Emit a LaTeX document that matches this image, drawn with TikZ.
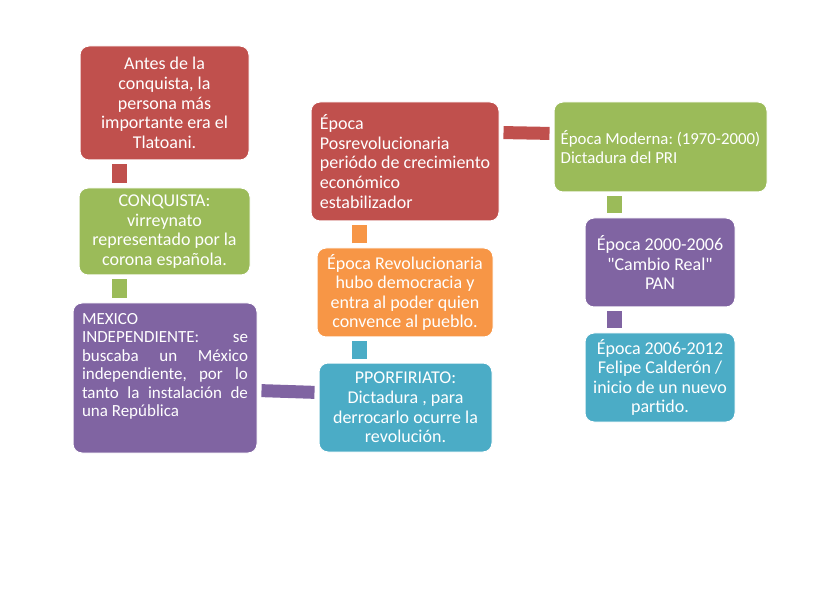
\documentclass[tikz,border=0pt]{standalone}
\usepackage{fontspec}
\newfontfamily\cbr{Carlito}
\usepackage{tikz}
\usetikzlibrary{positioning}
\definecolor{smred}{HTML}{C0504D}
\definecolor{smgreen}{HTML}{9BBB59}
\definecolor{smpurple}{HTML}{8064A2}
\definecolor{smblue}{HTML}{4BACC6}
\definecolor{smorange}{HTML}{F79646}
\frenchspacing
\begin{document}
\begin{tikzpicture}[x=1pt,y=-1pt,font=\cbr\fontsize{18}{19.6}\selectfont,
  b/.style={draw=white,line width=1pt,rounded corners=9pt,text=white,inner sep=0pt,align=center},
  link/.style={line width=15pt,shorten <=4pt,shorten >=4pt}]
\useasboundingbox (0,0) rectangle (820,596);
% left column
\node[b,fill=smred,minimum width=169pt,minimum height=114pt] (A) at (164.5,103)
  {Antes de la\\conquista, la\\persona más\\importante era el\\Tlatoani.};
\node[b,fill=smgreen,minimum width=171pt,minimum height=87pt] (B) at (164.5,231.5)
  {CONQUISTA:\\virreynato\\representado por la\\corona española.};
\node[b,fill=smpurple,minimum width=184pt,minimum height=150pt] (C) at (165,378)
  {\parbox[c][130pt][t]{166pt}{\fontsize{17}{18.5}\selectfont\hyphenpenalty=10000\hbadness=10000
   MEXICO\\INDEPENDIENTE:\ \ se\linebreak buscaba un México\linebreak independiente, por lo\linebreak tanto la instalación de\linebreak una República}};
% middle column
\node[b,fill=smblue,minimum width=173pt,minimum height=89pt] (D) at (405.5,407.5)
  {PPORFIRIATO:\\Dictadura , para\\derrocarlo ocurre la\\revolución.};
\node[b,fill=smorange,minimum width=176pt,minimum height=89pt] (E) at (405,292.5)
  {Época Revolucionaria\\hubo democracia y\\entra al poder quien\\convence al pueblo.};
\node[b,fill=smred,minimum width=188pt,minimum height=119pt,align=left] (F) at (405,161.5)
  {Época\\Posrevolucionaria\\periódo de crecimiento\\económico\\estabilizador};
% right column
\node[b,fill=smgreen,minimum width=213pt,minimum height=90pt,align=left,
  font=\cbr\fontsize{16.8}{19.2}\selectfont] (G) at (660.5,147)
  {Época Moderna: (1970-2000)\\Dictadura del PRI};
\node[b,fill=smpurple,minimum width=150pt,minimum height=89pt] (H) at (660,262.5)
  {Época 2000-2006\\"Cambio Real"\\PAN};
\node[b,fill=smblue,minimum width=150pt,minimum height=89pt] (I) at (660,377.5)
  {Época 2006-2012\\Felipe Calderón /\\inicio de un nuevo\\partido.};
% connectors
\draw[link,smred] (A.south -| 119.5,0) -- (B.north -| 119.5,0);
\draw[link,smgreen] (B.south -| 119.5,0) -- (C.north -| 119.5,0);
\draw[link,smpurple,line width=13pt] (C.east |- 0,390.5) -- (D.west |- 0,392.5);
\draw[link,smblue] (D.north -| 359.5,0) -- (E.south -| 359.5,0);
\draw[link,smorange] (E.north -| 359.5,0) -- (F.south -| 359.5,0);
\draw[link,smred,line width=13pt] (F.east |- 0,132.5) -- (G.west |- 0,133.5);
\draw[link,smgreen] (G.south -| 614.5,0) -- (H.north -| 614.5,0);
\draw[link,smpurple] (H.south -| 614.5,0) -- (I.north -| 614.5,0);
\end{tikzpicture}
\end{document}
